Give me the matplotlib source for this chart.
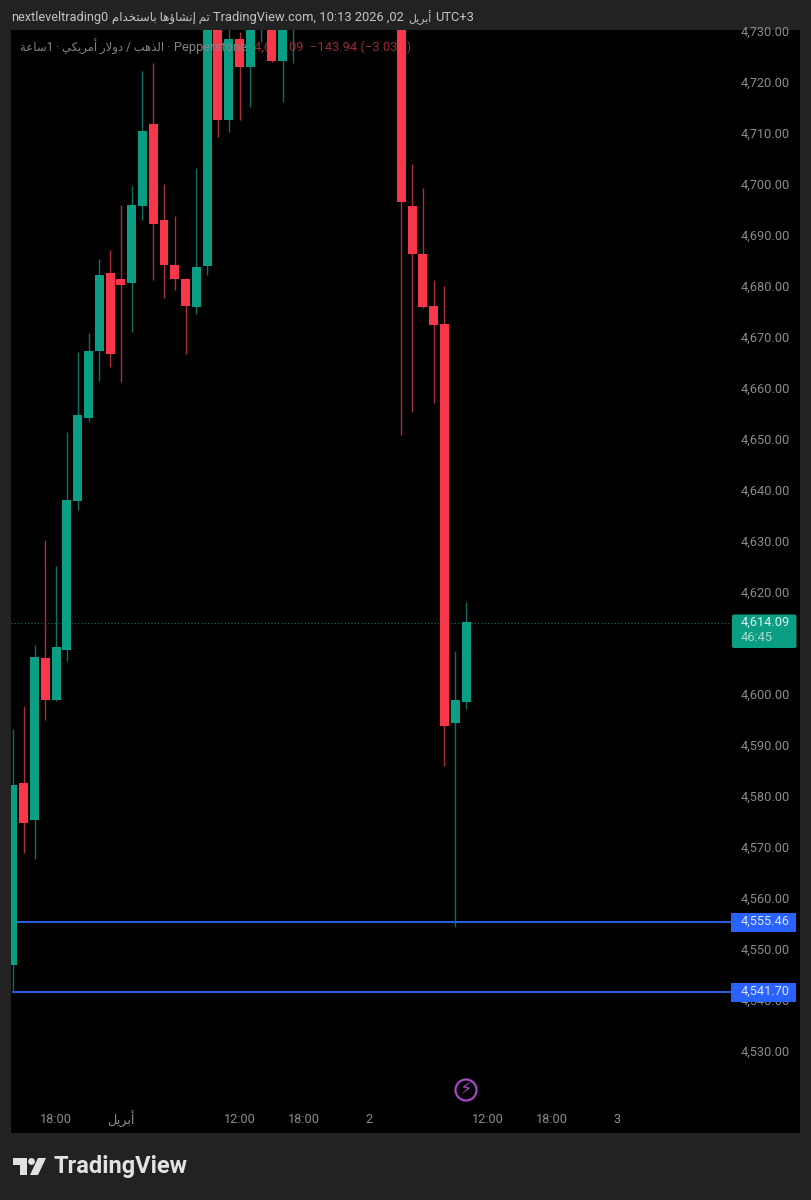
import unicodedata
import numpy as np
import matplotlib
matplotlib.use('Agg')
import matplotlib.pyplot as plt
from matplotlib.patches import FancyBboxPatch, Polygon, Circle, Rectangle
from matplotlib.transforms import Affine2D

plt.rcParams['font.family'] = ['Roboto', 'DejaVu Sans']

# hourly candles, slots 27-35 are above the visible range
slots = list(range(27)) + list(range(36, 43))
opens = [4546.9, 4582.6, 4575.3, 4607.1, 4598.8, 4608.6, 4637.8, 4654.1, 4667.3, 4682.5, 4681.4,
         4680.6, 4695.7, 4711.8, 4692.9, 4684.1, 4681.4, 4675.9, 4683.9, 4736.0, 4712.5, 4728.4,
         4722.9, 4734.0, 4745.0, 4724.1, 4735.0,
         4745.0, 4695.7, 4686.3, 4676.1, 4672.5, 4594.3, 4598.4]
highs = [4593.2, 4597.6, 4609.6, 4630.2, 4625.0, 4651.4, 4667.1, 4670.8, 4685.3, 4687.1, 4695.9,
         4699.6, 4722.2, 4723.7, 4700.0, 4693.7, 4681.6, 4703.1, 4740.0, 4742.0, 4740.0, 4729.8,
         4745.0, 4750.0, 4750.0, 4750.0, 4750.0,
         4750.0, 4703.9, 4699.2, 4681.2, 4680.0, 4608.4, 4618.0]
lows = [4541.5, 4568.9, 4567.7, 4594.9, 4598.6, 4606.4, 4636.1, 4653.3, 4661.4, 4664.1, 4661.2,
        4671.0, 4692.9, 4681.2, 4677.6, 4679.2, 4666.7, 4674.5, 4682.2, 4709.2, 4710.2, 4712.5,
        4715.1, 4727.8, 4724.0, 4716.1, 4723.7,
        4650.8, 4655.3, 4675.7, 4657.1, 4585.9, 4554.3, 4597.1]
closes = [4582.2, 4574.7, 4607.3, 4598.8, 4609.2, 4638.0, 4654.7, 4667.3, 4682.2, 4666.7, 4680.2,
          4695.9, 4710.4, 4692.2, 4684.1, 4681.4, 4676.1, 4683.7, 4735.0, 4712.5, 4728.4, 4722.9,
          4740.0, 4745.0, 4724.1, 4745.0, 4745.0,
          4696.5, 4686.3, 4675.9, 4672.4, 4593.7, 4598.8, 4614.09]

# 4,610.00 sits under the last price box in the original, so it is left out
price_ticks = [p for p in range(4530, 4731, 10) if p != 4610]
time_slots = [4, 10, 21, 27, 33, 44, 50, 56]
level_lines = [4555.46, 4541.70]
last_price = 4614.09
countdown = '46:45'

BG = '#222222'
GREEN = '#0a9f84'
RED = '#f8374b'
GREEN_WICK = '#0e6f60'
RED_WICK = '#a92f3d'
BLUE = '#2962ff'
GREY = '#8c8c8c'


def shape(word):
    # matplotlib does no arabic shaping, so pick the joined forms by hand
    no_left_join = 'اأإؤدذرزوة'
    out = []
    for i, ch in enumerate(word):
        prev_joins = i > 0 and word[i-1] not in no_left_join
        next_joins = i < len(word)-1 and ch not in no_left_join
        if prev_joins and next_joins:
            form = 'MEDIAL'
        elif prev_joins:
            form = 'FINAL'
        elif next_joins:
            form = 'INITIAL'
        else:
            form = 'ISOLATED'
        out.append(unicodedata.lookup(f'{unicodedata.name(ch)} {form} FORM'))
    text = ''.join(out)
    text = text.replace('\ufedf\ufe8e', '\ufefb').replace('\ufee0\ufe8e', '\ufefc')
    return text[::-1]


fig = plt.figure(figsize=(8.12, 12.0), dpi=100, facecolor=BG)
ax = fig.add_axes([11/812, 1-1133/1200, 789/812, 1103/1200], facecolor='black')
px = Affine2D().scale(1/812, -1/1200).translate(0, 1) + fig.transFigure

ax.set_xlim(-0.185, 72.96)
ax.set_ylim(4513.9, 4730.2)
for s in ax.spines.values():
    s.set_visible(False)

o = np.array(opens)
c = np.array(closes)
up = c >= o
ax.vlines(slots, lows, highs, colors=[GREEN_WICK if u else RED_WICK for u in up], lw=1.0, zorder=3)
ax.bar(slots, np.abs(c-o), bottom=np.minimum(o, c), width=0.83,
       color=[GREEN if u else RED for u in up], zorder=4)

# price lines sit about a pixel lower than the candles were read
nudge = ax.transData + Affine2D().translate(0, -1.2)
box_x = 66.6
ax.hlines(level_lines, -0.1, box_x, colors='#2b5be0', lw=1.5, zorder=2, transform=nudge)
ax.hlines(last_price, -0.185, box_x, colors='#0f6e5e', lw=0.8, linestyles=(0, (1, 2)), zorder=2, transform=nudge)

# axes labels
ax.yaxis.tick_right()
ax.set_yticks(price_ticks)
ax.set_yticklabels([f'{p:,.2f}' for p in price_ticks], fontsize=9.2, color=GREY, ha='right')
ax.tick_params(axis='y', length=0, pad=-7.2)
ax.set_xticks(time_slots)
ax.set_xticklabels(['18:00', shape('أبريل'), '12:00', '18:00', '2', '12:00', '18:00', '3'],
                   fontsize=9.2, color=GREY, va='center')
ax.tick_params(axis='x', length=0, pad=-9.7)

# price boxes
fig.add_artist(FancyBboxPatch((732, 614.5), 64.5, 33.5, boxstyle='round,pad=0,rounding_size=2',
                              fc=GREEN, ec='none', transform=px, zorder=5))
fig.text(741, 622.5, f'{last_price:,.2f}', transform=px, fontsize=9.2, color='#e3f3ef', va='center', zorder=6)
fig.text(741, 637.5, countdown, transform=px, fontsize=9.2, color='#a9dcd1', va='center', zorder=6)
for lvl, ymid in zip(level_lines, [922.2, 992.2]):
    fig.add_artist(Rectangle((731.5, ymid-9.5), 65, 19, fc=BLUE, ec='none', transform=px, zorder=5))
    fig.text(790, ymid-0.7, f'{lvl:,.2f}', transform=px, fontsize=9.2, color='#dbe5ff',
             ha='right', va='center', zorder=6)

# header pieces, placed one by one because the arabic font runs wider
head_color = '#c4c4c4'
fig.text(11, 17.5, 'nextleveltrading0', transform=px, fontsize=9.2, color=head_color, va='center')
fig.text(112, 17.5, shape('باستخدام') + ' ' + shape('إنشاؤها') + ' ' + shape('تم'), transform=px,
         fontsize=8.5, color=head_color, va='center')
fig.text(213, 17.5, 'TradingView.com, 10:13 2026 ,02', transform=px, fontsize=9.3, color=head_color, va='center')
fig.text(408, 17.5, shape('أبريل'), transform=px, fontsize=7.8, color=head_color, va='center')
fig.text(435, 17.5, 'UTC+3', transform=px, fontsize=9.3, color=head_color, va='center')

legend = (shape('ساعة') + '1 · ' + shape('أمريكي') + ' ' + shape('دولار') + ' / ' + shape('الذهب') + ' ·')
fig.text(20, 47, legend, transform=px, fontsize=8.4, color='#858585', va='center', zorder=6)
fig.text(174, 47, 'Pepperstone', transform=px, fontsize=9.3, color='#858585', va='center', zorder=6)
ax.text(254, 47, '4,614.09  −143.94 (−3.03%)', transform=px, fontsize=9.3, color='#9c2a36',
        va='center', zorder=1)

# alert icon
fig.add_artist(Circle((466, 1090), 10.5, fc='none', ec='#a845c4', lw=1.6, transform=px, zorder=6))
fig.text(466, 1090, '\u26a1', transform=px, family=['DejaVu Sans'], fontsize=13, color='#a845c4',
         ha='center', va='center', zorder=6)

# logo
logo = '#e2e2e2'
fig.add_artist(Polygon([(13, 1158), (27, 1158), (27, 1175), (20, 1175), (20, 1165), (13, 1165)],
                       fc=logo, ec='none', transform=px))
fig.add_artist(Circle((31.5, 1161.5), 3.4, fc=logo, ec='none', transform=px))
fig.add_artist(Polygon([(38, 1158), (46, 1158), (38, 1175), (30, 1175)], fc=logo, ec='none', transform=px))
fig.text(54, 1167, 'TradingView', transform=px, fontsize=17, fontweight='bold', color=logo, va='center')

fig.savefig('out.png', dpi=100, facecolor=BG)
